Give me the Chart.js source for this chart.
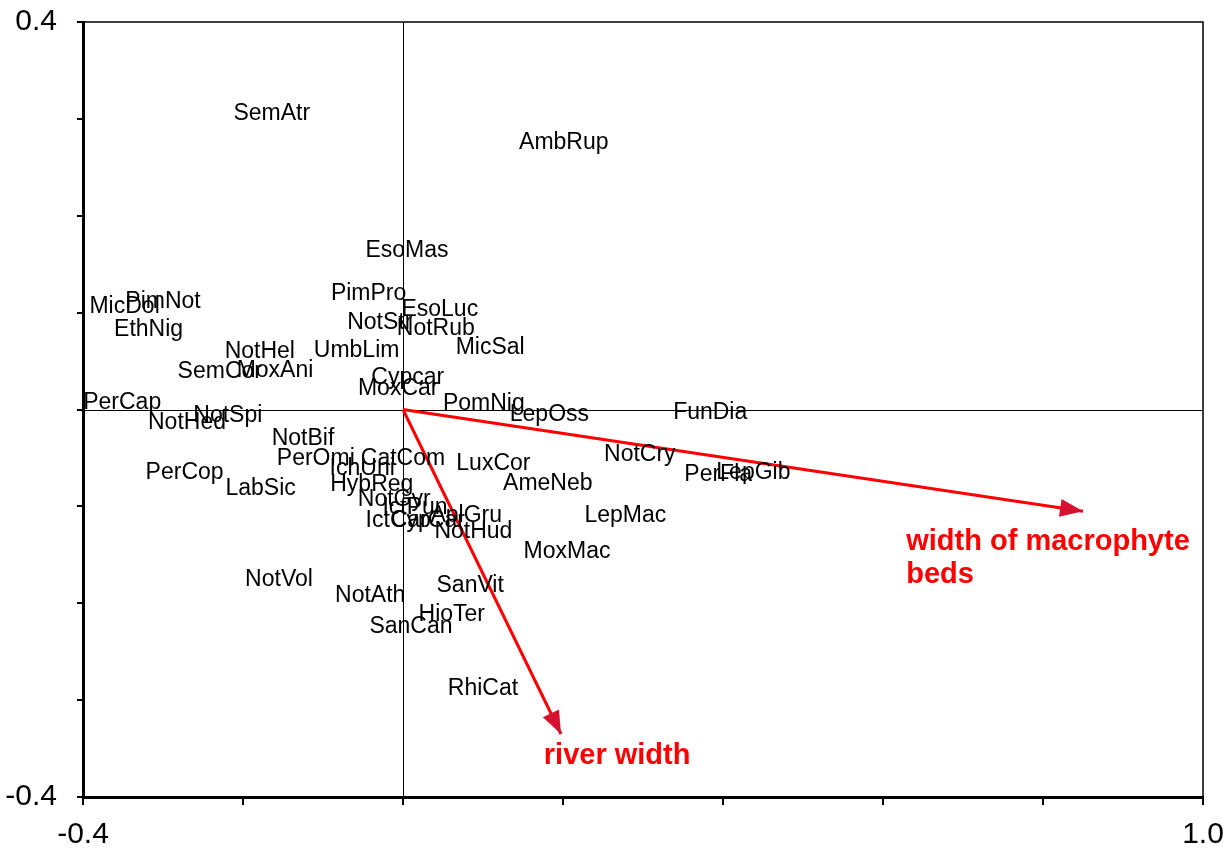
<!DOCTYPE html>
<html>
<head>
<meta charset="utf-8">
<script src="https://cdn.jsdelivr.net/npm/chart.js@4/dist/chart.umd.min.js"></script>
<style>
  html, body { margin: 0; padding: 0; background: #ffffff; }
  #wrap { position: relative; width: 1228px; height: 848px; }
</style>
</head>
<body>
<div id="wrap"><canvas id="ord"></canvas></div>
<script>
// Species scores (axis 1, axis 2)
const speciesNames = [
  'SemAtr','AmbRup','EsoMas','PimNot','MicDol','PimPro','EsoLuc','NotStr','NotRub','EthNig',
  'MicSal','NotHel','UmbLim','SemCor','MoxAni','Cypcar','MoxCar','PerCap','NotHed','NotSpi',
  'PomNig','LepOss','FunDia','NotBif','PerOmi','CatCom','IchUni','HybReg','LuxCor','NotCry',
  'PerCop','LabSic','AmeNeb','PerFla','LepGib','LepMac','MoxMac','NotVol','NotAth','SanVit',
  'HioTer','SanCan','RhiCat','NotGyr','IctPun','IctCyp','CarCar','AplGru','NotHud'
];
const speciesX = [
  -0.164, 0.201, 0.005,-0.300,-0.348,-0.043, 0.046,-0.029, 0.041,-0.318,
   0.109,-0.179,-0.058,-0.229,-0.160, 0.006,-0.006,-0.351,-0.270,-0.219,
   0.101, 0.183, 0.384,-0.125,-0.109, 0.000,-0.051,-0.039, 0.113, 0.296,
  -0.273,-0.178, 0.181, 0.394, 0.438, 0.278, 0.205,-0.155,-0.041, 0.084,
   0.061, 0.010, 0.100,-0.011, 0.015,-0.006, 0.031, 0.079, 0.088
];
const speciesY = [
   0.307, 0.278, 0.166, 0.113, 0.108, 0.122, 0.105, 0.092, 0.086, 0.085,
   0.066, 0.062, 0.063, 0.041, 0.042, 0.035, 0.024, 0.009,-0.011,-0.004,
   0.008,-0.003,-0.001,-0.028,-0.049,-0.049,-0.059,-0.076,-0.054,-0.045,
  -0.063,-0.080,-0.074,-0.065,-0.063,-0.108,-0.145,-0.174,-0.190,-0.180,
  -0.210,-0.222,-0.286,-0.091,-0.099,-0.113,-0.113,-0.107,-0.124
];

// Environmental variable biplot arrows (tip coordinates)
const envNames = [['width of macrophyte', 'beds'], ['river width']];
const envX = [0.850, 0.1975];
const envY = [-0.105, -0.335];

// Axis ranges and the tick labels shown at the ends
const xRange = [-0.4, 1.0];
const yRange = [-0.4, 0.4];
const xTickLabels = ['-0.4', '1.0'];
const yTickLabels = ['-0.4', '0.4'];

const LABEL_FONT = '23px "Liberation Sans", Arial, sans-serif';
const ENV_FONT = 'bold 29px "Liberation Sans", Arial, sans-serif';
const TICK_FONT = { family: '"Liberation Sans", Arial, sans-serif', size: 30 };

const speciesPoints = speciesX.map((x, i) => ({ x: x, y: speciesY[i] }));

const envDatasets = envX.map((x, i) => ({
  type: 'line',
  label: envNames[i].join(' '),
  data: [{ x: 0, y: 0 }, { x: x, y: envY[i] }],
  borderColor: '#ff0000',
  borderWidth: 3,
  pointRadius: 0,
  fill: false,
  tension: 0,
  order: 1
}));

// Draws the zero cross lines and the frame around the plot area
const framePlugin = {
  id: 'frame',
  beforeDatasetsDraw(chart) {
    const { ctx, chartArea: a, scales: { x, y } } = chart;
    ctx.save();
    ctx.strokeStyle = '#000';
    ctx.lineWidth = 1;
    const x0 = Math.round(x.getPixelForValue(0)) + 0.5;
    const y0 = Math.round(y.getPixelForValue(0)) + 0.5;
    ctx.beginPath();
    ctx.moveTo(x0, a.top); ctx.lineTo(x0, a.bottom);
    ctx.moveTo(a.left, y0); ctx.lineTo(a.right, y0);
    ctx.stroke();
    ctx.lineWidth = 1.5;
    ctx.beginPath();
    ctx.moveTo(a.left, a.top); ctx.lineTo(a.right, a.top); ctx.lineTo(a.right, a.bottom);
    ctx.stroke();
    ctx.restore();
  }
};

// Species name labels centred on their scores, arrow heads and arrow captions
const labelPlugin = {
  id: 'ordLabels',
  afterDatasetsDraw(chart) {
    const { ctx, scales: { x, y } } = chart;
    ctx.save();
    // species names (text box centred on the score)
    const meta = chart.getDatasetMeta(0);
    ctx.font = LABEL_FONT;
    ctx.fillStyle = '#000';
    ctx.textAlign = 'center';
    ctx.textBaseline = 'middle';
    meta.data.forEach((pt, i) => {
      ctx.fillText(speciesNames[i], pt.x, pt.y + 2);
    });
    // arrow heads
    const ox = x.getPixelForValue(0), oy = y.getPixelForValue(0);
    envX.forEach((vx, i) => {
      const tx = x.getPixelForValue(vx), ty = y.getPixelForValue(envY[i]);
      const ang = Math.atan2(ty - oy, tx - ox);
      const len = 23, half = 9;
      const bx = tx - len * Math.cos(ang), by = ty - len * Math.sin(ang);
      ctx.fillStyle = '#d6102f';
      ctx.beginPath();
      ctx.moveTo(tx, ty);
      ctx.lineTo(bx + half * Math.sin(ang), by - half * Math.cos(ang));
      ctx.lineTo(bx - half * Math.sin(ang), by + half * Math.cos(ang));
      ctx.closePath();
      ctx.fill();
    });
    // captions
    ctx.font = ENV_FONT;
    ctx.fillStyle = '#ff0000';
    ctx.textAlign = 'left';
    ctx.textBaseline = 'alphabetic';
    const caps = chart.options.plugins.ordLabels.captions;
    caps.forEach((c, i) => {
      const px = x.getPixelForValue(c.x), py = y.getPixelForValue(c.y);
      envNames[i].forEach((line, k) => ctx.fillText(line, px, py + k * 33));
    });
    ctx.restore();
  }
};

new Chart(document.getElementById('ord'), {
  type: 'scatter',
  data: {
    datasets: [
      {
        label: 'species',
        data: speciesPoints,
        pointRadius: 0,
        pointHoverRadius: 0,
        showLine: false,
        order: 2
      },
      ...envDatasets
    ]
  },
  options: {
    responsive: true,
    maintainAspectRatio: false,
    animation: false,
    events: [],
    layout: { padding: { top: 22, right: 25, left: 0, bottom: 0 } },
    plugins: {
      legend: { display: false },
      tooltip: { enabled: false },
      ordLabels: {
        captions: [
          { x: 0.629, y: -0.145 },
          { x: 0.176, y: -0.366 }
        ]
      }
    },
    scales: {
      x: {
        type: 'linear',
        min: xRange[0],
        max: xRange[1],
        afterBuildTicks(scale) {
          const t = [];
          for (let i = 0; i <= 7; i++) t.push({ value: +(xRange[0] + i * 0.2).toFixed(1) });
          scale.ticks = t;
        },
        afterFit(scale) {
          scale.height = 51;
          scale.paddingLeft = 0;
          scale.paddingRight = 0;
        },
        ticks: {
          autoSkip: false,
          maxRotation: 0,
          padding: 12,
          color: '#000',
          font: TICK_FONT,
          callback(v, i, ticks) {
            if (i === 0) return xTickLabels[0];
            if (i === ticks.length - 1) return xTickLabels[1];
            return '';
          }
        },
        grid: { drawOnChartArea: false, drawTicks: true, tickLength: 8, color: '#000', lineWidth: 2 },
        border: { display: true, color: '#000', width: 3 }
      },
      y: {
        type: 'linear',
        min: yRange[0],
        max: yRange[1],
        afterBuildTicks(scale) {
          const t = [];
          for (let i = 0; i <= 8; i++) t.push({ value: +(yRange[0] + i * 0.1).toFixed(1) });
          scale.ticks = t;
        },
        afterFit(scale) {
          scale.width = 83;
          scale.paddingTop = 0;
          scale.paddingBottom = 0;
        },
        ticks: {
          autoSkip: false,
          padding: 20,
          color: '#000',
          font: TICK_FONT,
          callback(v, i, ticks) {
            if (i === 0) return yTickLabels[0];
            if (i === ticks.length - 1) return yTickLabels[1];
            return '';
          }
        },
        grid: { drawOnChartArea: false, drawTicks: true, tickLength: 6, color: '#000', lineWidth: 2 },
        border: { display: true, color: '#000', width: 3 }
      }
    }
  },
  plugins: [framePlugin, labelPlugin]
});
</script>
</body>
</html>
